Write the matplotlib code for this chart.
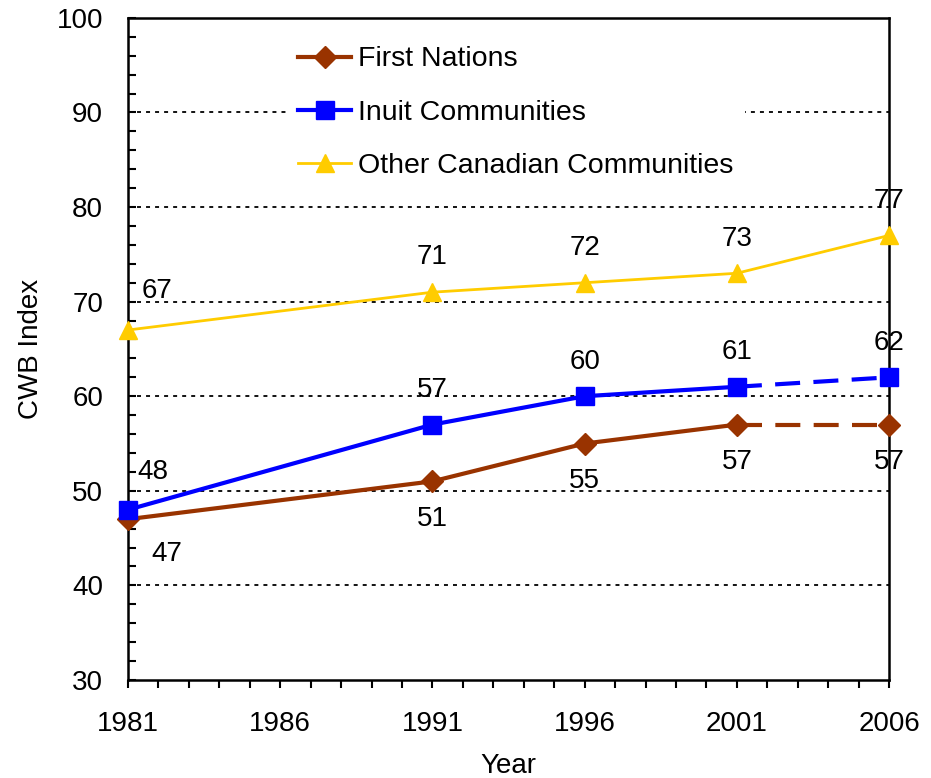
""" CWB Index by community type, 1981-2006 """
import matplotlib.pyplot as plt
from matplotlib.ticker import MultipleLocator

plt.rcParams['font.family'] = ['Liberation Sans', 'DejaVu Sans']

years = [1981, 1991, 1996, 2001, 2006]
first_nations = [47, 51, 55, 57, 57]
inuit = [48, 57, 60, 61, 62]
other = [67, 71, 72, 73, 77]

# name, values, colour, marker, line width, marker size, label side, dashed last segment
series = [
    ("First Nations", first_nations, "#993300", "D", 3, 11.5, "below", True),
    ("Inuit Communities", inuit, "#0000FF", "s", 3, 12.5, "above", True),
    ("Other Canadian Communities", other, "#FFCC00", "^", 2, 13, "above", False),
]

fig = plt.figure(figsize=(9.31, 7.78), dpi=100)
ax = fig.add_axes([0.1375, 0.126, 0.8175, 0.851])

for y in range(40, 100, 10):
    ax.axhline(y, color="black", lw=1.3, ls=(0, (2.2, 2.8)), zorder=1)

for name, vals, color, marker, lw, ms, side, dashed in series:
    if dashed:
        ax.plot(years[:4], vals[:4], color=color, lw=lw, zorder=3, clip_on=False)
        ax.plot(years[3:], vals[3:], color=color, lw=lw, ls=(0, (6, 3.2)), zorder=3, clip_on=False)
    else:
        ax.plot(years, vals, color=color, lw=lw, zorder=3, clip_on=False)
    ax.plot(years, vals, ls="none", marker=marker, ms=ms, color=color, zorder=4, clip_on=False)
    # legend proxy: solid line with marker
    ax.plot([], [], color=color, lw=lw, marker=marker, ms=ms, label=name)

# value labels
for name, vals, color, marker, lw, ms, side, dashed in series:
    for i, (x, v) in enumerate(zip(years, vals)):
        dx = 0
        dy = 25 if side == "above" else -27
        if i == 0:
            if name == "First Nations":
                dx, dy = 28, -25
            elif name == "Inuit Communities":
                dx, dy = 18, 27
            else:
                dx, dy = 21, 28
        ax.annotate(str(v), (x, v), xytext=(dx, dy), textcoords="offset points",
                    ha="center", va="center", fontsize=20, zorder=5)

ax.set_xlim(1981, 2006)
ax.set_ylim(30, 100)
ax.set_xticks([1981, 1986, 1991, 1996, 2001, 2006])
ax.xaxis.set_minor_locator(MultipleLocator(1))
ax.yaxis.set_major_locator(MultipleLocator(10))
ax.yaxis.set_minor_locator(MultipleLocator(2))
ax.tick_params(axis="x", which="both", direction="out", length=6, width=1.5,
               labelsize=20, pad=16)
ax.tick_params(axis="y", which="both", direction="in", length=6, width=1.5,
               labelsize=20, pad=18)
for s in ax.spines.values():
    s.set_linewidth(1.8)

ax.set_xlabel("Year", fontsize=20, labelpad=12)
ax.set_ylabel("CWB Index", fontsize=20, labelpad=9)

leg = ax.legend(loc="upper left", bbox_to_anchor=(0.209, 0.974), fontsize=20.5,
                frameon=True, handlelength=1.85, labelspacing=0.95, handletextpad=0.25,
                borderpad=0.4, borderaxespad=0)
leg.get_frame().set_edgecolor("none")
leg.get_frame().set_facecolor("white")
leg.get_frame().set_alpha(1)
leg.set_zorder(6)

fig.savefig("out.png", dpi=100)
